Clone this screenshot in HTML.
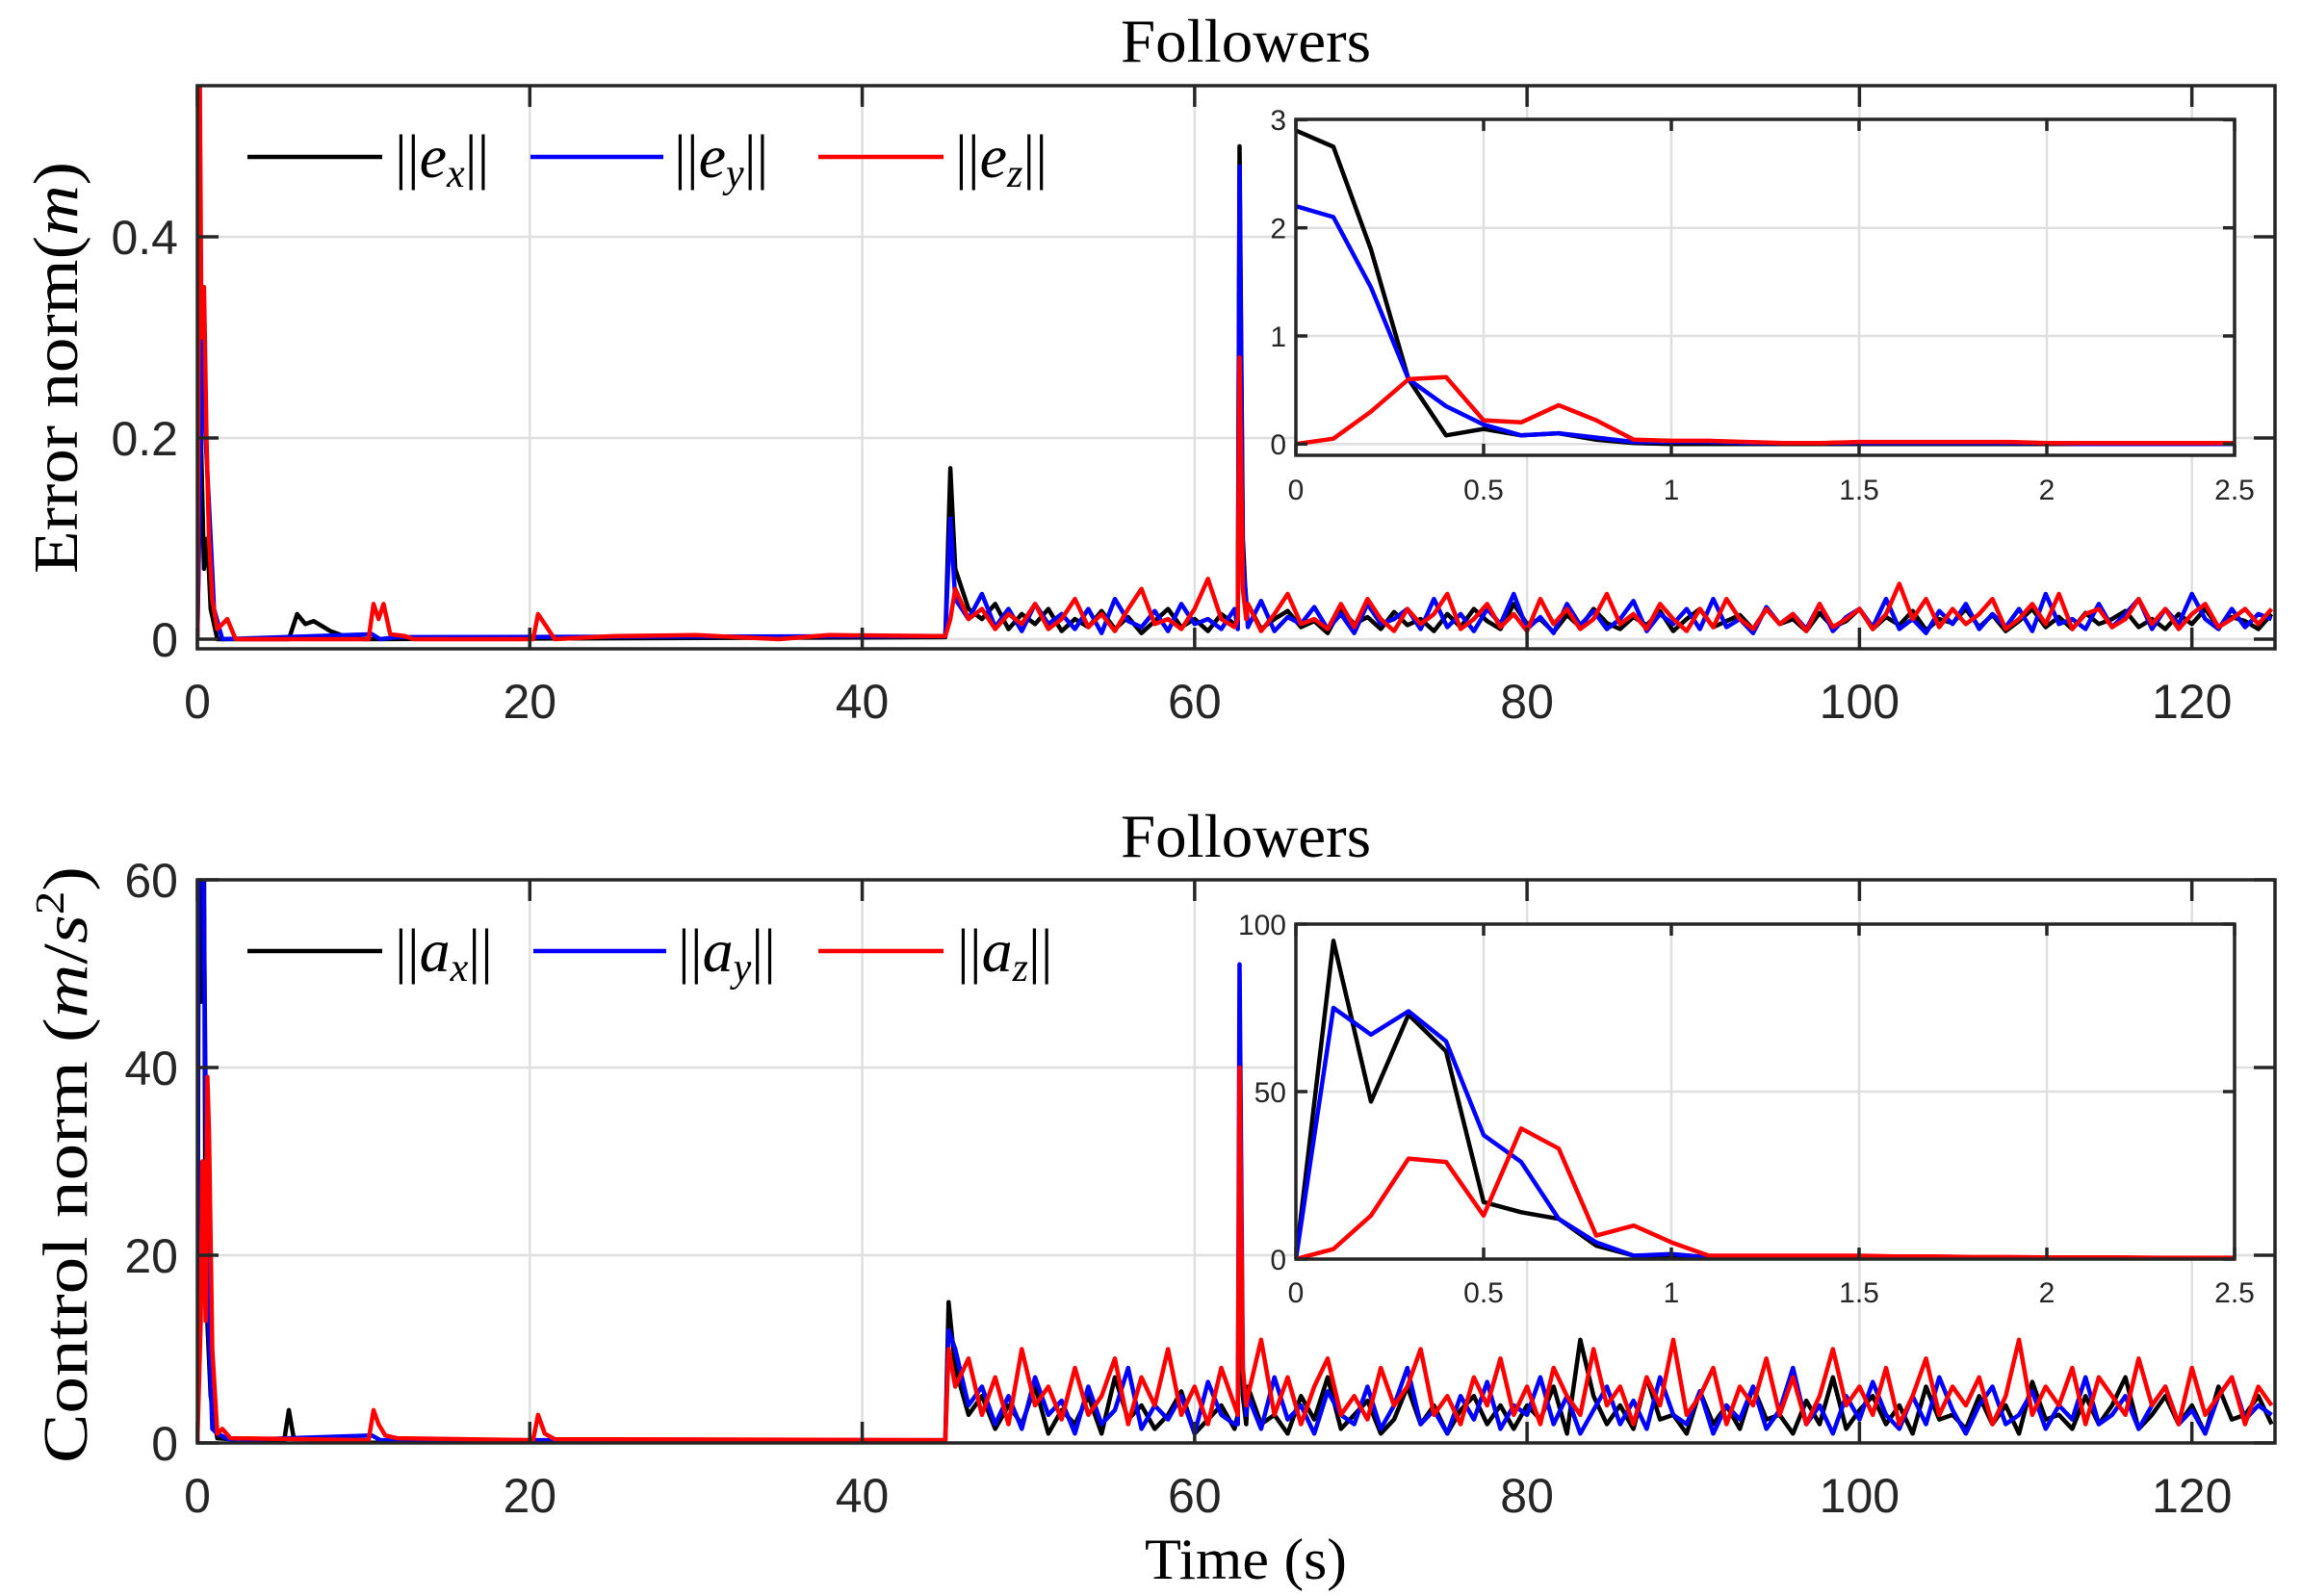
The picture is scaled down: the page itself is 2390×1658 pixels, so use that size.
<!DOCTYPE html>
<html><head><meta charset="utf-8"><style>
html,body{margin:0;padding:0;background:#fff;}
svg{display:block;}
.tk{font-family:"Liberation Sans",sans-serif;fill:#262626;}
.sr{font-family:"Liberation Serif",serif;fill:#000;}
</style></head><body>
<svg id="chart" width="2390" height="1658" viewBox="0 0 2390 1658" xmlns="http://www.w3.org/2000/svg">
<defs>
<clipPath id="clipTop"><rect x="205" y="89" width="2158" height="585"/></clipPath>
<clipPath id="clipBot"><rect x="205" y="914" width="2158" height="585"/></clipPath>
<clipPath id="clipInTop"><rect x="1346" y="124" width="975" height="349"/></clipPath>
<clipPath id="clipInBot"><rect x="1346" y="960" width="975" height="348"/></clipPath>
</defs>
<g id="root"></g>
</svg>
<script>
// ---------- DATA ----------
const xTicksMain = [0,20,40,60,80,100,120];
const yTicksTop = [0,0.2,0.4];
const yTickLabelsTop = ["0","0.2","0.4"];
const yTicksBot = [0,20,40,60];
const xTicksInset = [0,0.5,1,1.5,2,2.5];
const xTickLabelsInset = ["0","0.5","1","1.5","2","2.5"];
const yTicksInsetTop = [0,1,2,3];
const yTicksInsetBot = [0,50,100];

// noisy section: starts at t=45.6 with step 0.8
const noiseStart = 45.6;
const noiseStep = 0.8;

// top plot sparse parts
const exTimes = [0,0.2,0.4,0.6,0.8,1.2,5.5,6,6.5,7,8,9,10,45,45.3,62.6,62.7,62.9,63.1];
const exVals  = [0,0.21,0.07,0.1,0.03,0,0,0.025,0.015,0.018,0.008,0.002,0,0.002,0.17,0.015,0.49,0.1,0.03];
const eyTimes = [0,0.3,0.5,0.8,1,1.5,10.5,11,12,45,45.3,62.6,62.7,62.9,63.1];
const eyVals  = [0,0.3,0.2,0.1,0.03,0,0.005,0,0.002,0.003,0.12,0.01,0.47,0.08,0.04];
const ezTimes = [0,0.15,0.25,0.4,0.55,0.7,0.9,1.2,1.8,2.3,10.3,10.6,10.9,11.2,11.6,12.5,13,20.2,20.5,20.9,21.5,25,30,35,38,45,45.3,62.6,62.7,62.9,63.1];
const ezVals  = [0,0.55,0.3,0.35,0.2,0.1,0.04,0.01,0.02,0,0,0.035,0.02,0.035,0.005,0.003,0,0,0.025,0.015,0,0.003,0.004,0,0.004,0.003,0.02,0.02,0.28,0.05,0.02];

const exNoise = [0.07,0.03,0.02,0.035,0.01,0.025,0.015,0.03,0.008,0.02,0.012,0.028,0.01,0.022,0.006,0.018,0.03,0.012,0.02,0.008,0.025,0.015,0.035,0.01,0.02,0.028,0.012,0.018,0.006,0.03,0.015,0.022,0.01,0.027,0.014,0.02,0.008,0.025,0.012,0.03,0.018,0.01,0.035,0.015,0.02,0.007,0.024,0.012,0.03,0.016,0.01,0.022,0.014,0.028,0.008,0.02,0.03,0.012,0.018,0.024,0.01,0.03,0.015,0.02,0.008,0.026,0.012,0.018,0.03,0.01,0.022,0.014,0.028,0.009,0.02,0.016,0.03,0.012,0.024,0.008,0.018,0.03,0.012,0.022,0.01,0.026,0.015,0.02,0.028,0.012,0.02,0.01,0.025,0.015,0.03,0.012,0.022,0.018,0.01,0.025];
const eyNoise = [0.04,0.02,0.045,0.012,0.03,0.008,0.035,0.015,0.025,0.01,0.03,0.006,0.04,0.018,0.012,0.028,0.008,0.035,0.015,0.02,0.01,0.03,0.012,0.038,0.008,0.022,0.015,0.032,0.01,0.025,0.006,0.035,0.015,0.02,0.03,0.01,0.04,0.012,0.025,0.008,0.03,0.015,0.045,0.01,0.022,0.006,0.035,0.014,0.028,0.01,0.02,0.038,0.008,0.025,0.015,0.03,0.01,0.04,0.012,0.02,0.006,0.032,0.015,0.025,0.01,0.035,0.008,0.022,0.03,0.012,0.04,0.01,0.02,0.006,0.028,0.015,0.035,0.01,0.025,0.012,0.03,0.008,0.045,0.015,0.02,0.01,0.035,0.012,0.025,0.04,0.01,0.03,0.015,0.045,0.02,0.01,0.03,0.012,0.025,0.02];
const ezNoise = [0.05,0.02,0.03,0.01,0.025,0.015,0.035,0.01,0.02,0.04,0.012,0.025,0.008,0.03,0.05,0.015,0.02,0.01,0.03,0.06,0.02,0.012,0.035,0.008,0.025,0.045,0.015,0.02,0.01,0.035,0.012,0.04,0.02,0.008,0.03,0.015,0.025,0.045,0.01,0.02,0.035,0.012,0.025,0.008,0.04,0.015,0.03,0.01,0.02,0.045,0.015,0.025,0.01,0.035,0.02,0.008,0.03,0.012,0.04,0.02,0.01,0.03,0.015,0.025,0.008,0.035,0.012,0.02,0.03,0.01,0.025,0.055,0.02,0.04,0.012,0.03,0.015,0.025,0.04,0.01,0.02,0.035,0.015,0.045,0.01,0.025,0.03,0.012,0.02,0.04,0.015,0.03,0.01,0.025,0.035,0.012,0.02,0.03,0.015,0.03];

// bottom plot sparse parts
const axTimes = [0,0.1,0.2,0.3,0.4,0.5,0.8,1.2,5.2,5.5,5.8,6.5,7,45,45.2,62.6,62.7,62.9,63.1];
const axVals  = [0,95,47,73,62,17,5,0.5,0,3.5,0.5,0.5,0,0.3,15,3,28,5,2];
const ayTimes = [0,0.1,0.3,0.5,0.7,0.9,1.2,2,10.5,11,45,45.2,62.6,62.7,62.9,63.1];
const ayVals  = [0,75,74,37,12,1.5,1,0.3,0.8,0.3,0.3,12,2,51,8,3];
const azTimes = [0,0.2,0.3,0.5,0.6,0.7,0.9,1.2,1.5,2,10.3,10.6,10.9,11.3,12,20.2,20.5,20.9,21.5,45,45.2,62.6,62.7,62.9,63.1];
const azVals  = [0,13,30,13,39,33,10,1,1.5,0.5,0.3,3.5,2,0.8,0.5,0.3,3,1,0.4,0.3,10,3,40,8,4];

const axNoise = [8,3,5,1.5,4,2,6,1,3.5,2,5,1,7,2.5,4,1.5,3,5.5,1,2.5,4,1.5,6,2,3,1,5,2.5,7,1.5,3,4.5,1,2.5,6,2,4,1,3.5,5,2,4,1.5,4,2.5,6,1,11,5,2,4,1.5,7,2.5,3,1,5.5,2,4,1.5,6,2.5,3,1,4.5,2,7,1.5,3.5,5,2,4,1,6,2.5,3,1.5,5,2,4,1,6.5,2.5,3,1.5,5,2,4,7,1.5,3,5,2,4,1,6,2.5,3,5,2];
const ayNoise = [10,4,6,2,5,1.5,7,3,4.5,1,6,2,3.5,8,1.5,4,2.5,5,1,6.5,3,2,5,1.5,7,2.5,4,1,5.5,3,2,6,1.5,4,8,2,3.5,1,5,2.5,6.5,1.5,4,3,7,2,5,1,3.5,6,2,4.5,1.5,7,3,2,5.5,1,4,2.5,6,1.5,3.5,8,2,4,1,5,2.5,6.5,3,1.5,5,2,7,3.5,1,4,6,2,3,5.5,1.5,4,2.5,7,2,3,5,1.5,4,6,2,3.5,1,5,7,2.5,4,3];
const azNoise = [6,9,3,7,2,10,4,6,2.5,8,3,5,9,2,7,4,10,3,6,2,8,4,5,11,3,7,2,6,9,3,5,2.5,8,4,6,10,3,5,2,7,4,9,3,6,2,8,5,3,10,4,6,2,7,4,11,3,5,8,2,6,4,9,3,7,2,5,10,4,6,3,8,2,5,9,3,6,4,7,2,5,11,3,6,4,8,2,7,5,3,9,4,6,2,8,3,5,7,2,6,4];

// insets (t = 0..2.5 step 0.1)
const insetStep = 0.1;
const iexVals = [2.9,2.75,1.8,0.6,0.08,0.14,0.08,0.1,0.04,0.01,0,0,0,0,0,0,0,0,0,0,0,0,0,0,0,0];
const ieyVals = [2.2,2.1,1.45,0.6,0.35,0.18,0.08,0.1,0.06,0.02,0.02,0.02,0.01,0.01,0.01,0.01,0.01,0.01,0.01,0.01,0.01,0,0,0,0,0];
const iezVals = [0,0.05,0.3,0.6,0.62,0.22,0.2,0.36,0.22,0.04,0.03,0.03,0.02,0.01,0.01,0.02,0.02,0.02,0.02,0.02,0.01,0.01,0.01,0.01,0.01,0.01];
const iaxVals = [0,95,47,73,62,17,14,12,4,1,1,0.5,0.5,0.3,0.3,0.3,0.3,0.3,0.3,0.2,0.2,0.2,0.2,0.2,0.2,0.2];
const iayVals = [0,75,67,74,65,37,29,12,5,1,1.5,0.5,0.5,0.3,0.3,0.3,0.3,0.3,0.3,0.2,0.2,0.2,0.2,0.2,0.2,0.2];
const iazVals = [0,3,13,30,29,13,39,33,7,10,5,1,1,1,1,1,0.8,0.8,0.6,0.6,0.5,0.5,0.5,0.4,0.4,0.4];

// ---------- AXES ----------
const NS = "http://www.w3.org/2000/svg";
const root = document.getElementById("root");
const X0 = 205, X1 = 2363, XMAX = 125;
function xMain(t){ return X0 + t*(X1-X0)/XMAX; }
function yTop(v){ return 664 - v*1045; }
function yBot(v){ return 1499 - v*9.75; }
function xIn(t){ return 1346 + t*390; }
function yInTop(v){ return 461.3 - v*112.3; }
function yInBot(v){ return 1308 - v*3.48; }

function mk(tag, attrs, parent){
  const el = document.createElementNS(NS, tag);
  for (const k in attrs) el.setAttribute(k, attrs[k]);
  (parent||root).appendChild(el);
  return el;
}
function merge(times, vals, noise){
  const pts = [];
  for (let i=0;i<times.length;i++) pts.push([times[i], vals[i]]);
  if (noise) for (let i=0;i<noise.length;i++) pts.push([noiseStart+i*noiseStep, noise[i]]);
  pts.sort((a,b)=>a[0]-b[0]);
  return pts;
}
function pathD(pts, fx, fy){
  return pts.map((p,i)=>(i?"L":"M")+fx(p[0]).toFixed(1)+" "+fy(p[1]).toFixed(1)).join(" ");
}

function drawFrame(name, x0, y0, x1, y1, xt, xf, xLabels, yt, yf){
  const g = mk("g", {});
  
  
  mk("rect", {x:x0, y:y0, width:x1-x0, height:y1-y0, fill:"#fff"}, g);
  xt.forEach(t=>{ const x = xf(t); mk("line",{x1:x,x2:x,y1:y0,y2:y1,stroke:"#dfdfdf","stroke-width":2.5},g); });
  yt.forEach(v=>{ const y = yf(v); mk("line",{x1:x0,x2:x1,y1:y,y2:y,stroke:"#dfdfdf","stroke-width":2.5},g); });
  return g;
}
function drawBox(name, x0, y0, x1, y1, xt, xf, xLabels, yt, yf, yLabels, fs, labelY, labelXRight, sw, tl){
  const g = mk("g", {});
  
  
  xt.forEach((t,i)=>{
    const x = xf(t);
    mk("line",{x1:x,x2:x,y1:y1,y2:y1-tl,stroke:"#262626","stroke-width":sw},g);
    mk("line",{x1:x,x2:x,y1:y0,y2:y0+tl,stroke:"#262626","stroke-width":sw},g);
    const tx = mk("text",{x:x, y:labelY, "text-anchor":"middle", "font-size":fs, class:"tk"},g);
    
    
    tx.textContent = xLabels[i];
  });
  yt.forEach((v,i)=>{
    const y = yf(v);
    mk("line",{x1:x0,x2:x0+tl,y1:y,y2:y,stroke:"#262626","stroke-width":sw},g);
    mk("line",{x1:x1,x2:x1-tl,y1:y,y2:y,stroke:"#262626","stroke-width":sw},g);
    const ty = mk("text",{x:labelXRight, y:y+fs*0.36, "text-anchor":"end", "font-size":fs, class:"tk"},g);
    
    
    ty.textContent = yLabels[i];
  });
  mk("rect",{x:x0,y:y0,width:x1-x0,height:y1-y0,fill:"none",stroke:"#262626","stroke-width":sw},g);
  return g;
}
function drawSeries(name, pts, fx, fy, color, clip, w){
  const p = mk("path",{d:pathD(pts,fx,fy), fill:"none", stroke:color, "stroke-width":w, "stroke-linejoin":"round", "clip-path":"url(#"+clip+")"});
  
  
}
function insetPts(vals){ return vals.map((v,i)=>[i*insetStep, v]); }

const xLabMain = xTicksMain.map(String);

// ----- top main -----
drawFrame("top-plot-area",205,89,2363,674,xTicksMain,xMain,xLabMain,yTicksTop,yTop);
drawSeries("series-ex", merge(exTimes,exVals,exNoise), xMain, yTop, "#000", "clipTop", 4.5);
drawSeries("series-ey", merge(eyTimes,eyVals,eyNoise), xMain, yTop, "#0000ff", "clipTop", 4.5);
drawSeries("series-ez", merge(ezTimes,ezVals,ezNoise), xMain, yTop, "#ff0000", "clipTop", 4.5);
drawBox("top-axes",205,89,2363,674,xTicksMain,xMain,xLabMain,yTicksTop,yTop,yTickLabelsTop,50,746,185,3.5,22);

// ----- bottom main -----
drawFrame("bottom-plot-area",205,914,2363,1499,xTicksMain,xMain,xLabMain,yTicksBot,yBot);
drawSeries("series-ax", merge(axTimes,axVals,axNoise), xMain, yBot, "#000", "clipBot", 4.5);
drawSeries("series-ay", merge(ayTimes,ayVals,ayNoise), xMain, yBot, "#0000ff", "clipBot", 4.5);
drawSeries("series-az", merge(azTimes,azVals,azNoise), xMain, yBot, "#ff0000", "clipBot", 4.5);
drawBox("bottom-axes",205,914,2363,1499,xTicksMain,xMain,xLabMain,yTicksBot,yBot,yTicksBot.map(String),50,1571,185,3.5,22);

// ----- top inset -----
drawFrame("top-inset-area",1346,124,2321,473,xTicksInset,xIn,xTickLabelsInset,yTicksInsetTop,yInTop);
drawSeries("inset-ex", insetPts(iexVals), xIn, yInTop, "#000", "clipInTop", 4.5);
drawSeries("inset-ey", insetPts(ieyVals), xIn, yInTop, "#0000ff", "clipInTop", 4.5);
drawSeries("inset-ez", insetPts(iezVals), xIn, yInTop, "#ff0000", "clipInTop", 4.5);
drawBox("top-inset-axes",1346,124,2321,473,xTicksInset,xIn,xTickLabelsInset,yTicksInsetTop,yInTop,yTicksInsetTop.map(String),30,519,1336,3.5,12);

// ----- bottom inset -----
drawFrame("bottom-inset-area",1346,960,2321,1308,xTicksInset,xIn,xTickLabelsInset,yTicksInsetBot,yInBot);
drawSeries("inset-ax", insetPts(iaxVals), xIn, yInBot, "#000", "clipInBot", 4.5);
drawSeries("inset-ay", insetPts(iayVals), xIn, yInBot, "#0000ff", "clipInBot", 4.5);
drawSeries("inset-az", insetPts(iazVals), xIn, yInBot, "#ff0000", "clipInBot", 4.5);
drawBox("bottom-inset-axes",1346,960,2321,1308,xTicksInset,xIn,xTickLabelsInset,yTicksInsetBot,yInBot,yTicksInsetBot.map(String),30,1353,1336,3.5,12);
</script>
<svg style="position:absolute;left:0;top:0" width="2390" height="1658" viewBox="0 0 2390 1658" xmlns="http://www.w3.org/2000/svg">
  <text class="sr" x="1294" y="64" text-anchor="middle" font-size="64" textLength="260" lengthAdjust="spacingAndGlyphs">Followers</text>
  <text class="sr" x="1294" y="890" text-anchor="middle" font-size="64" textLength="260" lengthAdjust="spacingAndGlyphs">Followers</text>
  <text class="sr" x="1294" y="1640" text-anchor="middle" font-size="60" textLength="210" lengthAdjust="spacingAndGlyphs">Time (s)</text>
  <text class="sr" transform="translate(80,382) rotate(-90)" text-anchor="middle" font-size="66" textLength="428" lengthAdjust="spacingAndGlyphs">Error norm(<tspan font-style="italic">m</tspan>)</text>
  <text class="sr" transform="translate(90,1210) rotate(-90)" text-anchor="middle" font-size="66" textLength="620" lengthAdjust="spacingAndGlyphs">Control norm  (<tspan font-style="italic">m</tspan>/<tspan font-style="italic">s</tspan><tspan font-size="42" dy="-24">2</tspan><tspan dy="24">)</tspan></text>

  <g>
    <line x1="257" x2="397" y1="163" y2="163" stroke="#000" stroke-width="4.5"/>
    <text class="sr" x="410" y="184" font-size="64">||<tspan font-style="italic">e</tspan><tspan font-style="italic" font-size="42" dy="10">x</tspan><tspan dy="-10">||</tspan></text>
    <line x1="551" x2="689" y1="163" y2="163" stroke="#0000ff" stroke-width="4.5"/>
    <text class="sr" x="700" y="184" font-size="64">||<tspan font-style="italic">e</tspan><tspan font-style="italic" font-size="42" dy="10">y</tspan><tspan dy="-10">||</tspan></text>
    <line x1="850" x2="980" y1="163" y2="163" stroke="#ff0000" stroke-width="4.5"/>
    <text class="sr" x="992" y="184" font-size="64">||<tspan font-style="italic">e</tspan><tspan font-style="italic" font-size="42" dy="10">z</tspan><tspan dy="-10">||</tspan></text>
  </g>
  <g>
    <line x1="257" x2="397" y1="988" y2="988" stroke="#000" stroke-width="4.5"/>
    <text class="sr" x="410" y="1009" font-size="64">||<tspan font-style="italic">a</tspan><tspan font-style="italic" font-size="42" dy="10">x</tspan><tspan dy="-10">||</tspan></text>
    <line x1="554" x2="692" y1="988" y2="988" stroke="#0000ff" stroke-width="4.5"/>
    <text class="sr" x="704" y="1009" font-size="64">||<tspan font-style="italic">a</tspan><tspan font-style="italic" font-size="42" dy="10">y</tspan><tspan dy="-10">||</tspan></text>
    <line x1="850" x2="980" y1="988" y2="988" stroke="#ff0000" stroke-width="4.5"/>
    <text class="sr" x="994" y="1009" font-size="64">||<tspan font-style="italic">a</tspan><tspan font-style="italic" font-size="42" dy="10">z</tspan><tspan dy="-10">||</tspan></text>
  </g>
</svg>
</body></html>
